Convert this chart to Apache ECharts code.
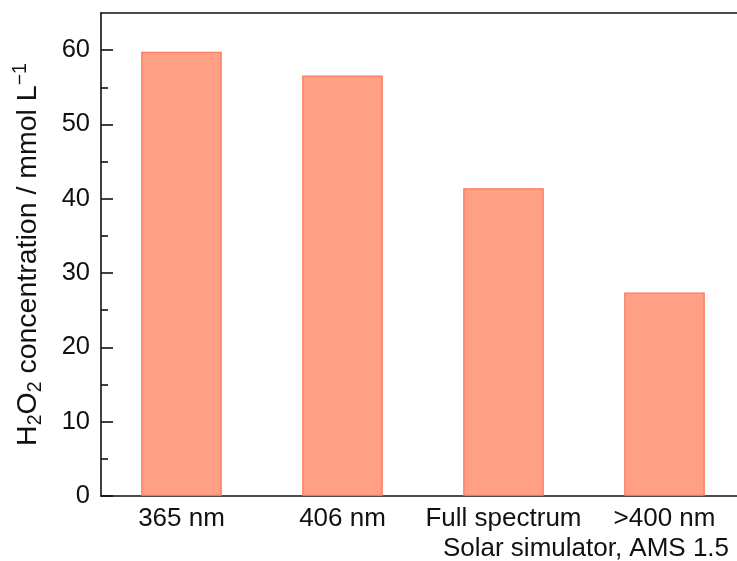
<!DOCTYPE html>
<html>
<head>
<meta charset="utf-8">
<style>
  html, body { margin: 0; padding: 0; background: #fff; }
  #chart { width: 737px; height: 561px; }
</style>
<script src="https://cdn.jsdelivr.net/npm/echarts@6/dist/echarts.min.js"></script>
</head>
<body>
<div id="chart"></div>
<script>
// H2O2 yield under different light sources
const categories = ['365 nm', '406 nm', 'Full spectrum', '>400 nm'];
const concentration = [59.8, 56.6, 41.4, 27.4];
const majorTicks = [0, 10, 20, 30, 40, 50, 60];
const minorTicks = [5, 15, 25, 35, 45, 55];
const yMax = 65;
const sourceNote = 'Solar simulator, AMS 1.5';

const FONT = '"Liberation Sans", Arial, sans-serif';
const INK = '#111';

const chart = echarts.init(document.getElementById('chart'), null, { renderer: 'canvas' });

chart.setOption({
  animation: false,
  backgroundColor: '#fff',
  // the frame runs past the right edge of the canvas
  grid: { left: 101, width: 644, top: 13, bottom: 65, outerBoundsMode: 'none', containLabel: false },
  xAxis: [
    {
      type: 'category',
      data: categories,
      position: 'bottom',
      axisLine: { show: true, onZero: false, lineStyle: { color: INK, width: 1.6 } },
      axisTick: { show: false },
      axisLabel: { color: INK, fontFamily: FONT, fontSize: 26, margin: 10, interval: 0 }
    },
    {
      // upper frame line
      type: 'category',
      data: categories,
      position: 'top',
      axisLine: { show: true, onZero: false, lineStyle: { color: INK, width: 1.6 } },
      axisTick: { show: false },
      axisLabel: { show: false }
    }
  ],
  yAxis: [
    {
      type: 'value',
      min: 0,
      max: yMax,
      position: 'left',
      axisLine: { show: true, onZero: false, lineStyle: { color: INK, width: 1.6 } },
      axisTick: { show: true, inside: true, length: 12, customValues: majorTicks, lineStyle: { color: INK, width: 1.6 } },
      axisLabel: { color: INK, fontFamily: FONT, fontSize: 25.5, margin: 11, customValues: majorTicks },
      splitLine: { show: false },
      name: '{n|H}{s|2}{n|O}{s|2}{n| concentration / mmol L}{p|\u22121}',
      nameLocation: 'middle',
      nameGap: 55,
      nameTextStyle: {
        color: INK,
        fontFamily: FONT,
        rich: {
          n: { fontSize: 28.5, fontFamily: FONT, color: INK, lineHeight: 35, verticalAlign: 'middle' },
          s: { fontSize: 19.5, fontFamily: FONT, color: INK, lineHeight: 35, verticalAlign: 'bottom' },
          p: { fontSize: 19.5, fontFamily: FONT, color: INK, lineHeight: 35, verticalAlign: 'top' }
        }
      }
    },
    {
      // minor ticks
      type: 'value',
      min: 0,
      max: yMax,
      position: 'left',
      axisLine: { show: false },
      axisTick: { show: true, inside: true, length: 7, customValues: minorTicks, lineStyle: { color: INK, width: 1.6 } },
      axisLabel: { show: false },
      splitLine: { show: false }
    }
  ],
  series: [
    {
      type: 'bar',
      data: concentration,
      barWidth: '50%',
      itemStyle: { color: '#FF9F84', borderColor: '#FF7050', borderWidth: 1.2 }
    }
  ],
  graphic: [
    {
      type: 'text',
      x: 586,
      y: 549,
      style: {
        text: sourceNote,
        font: '26px ' + FONT,
        fill: INK,
        textAlign: 'center',
        textVerticalAlign: 'middle'
      }
    }
  ]
});
</script>
</body>
</html>
